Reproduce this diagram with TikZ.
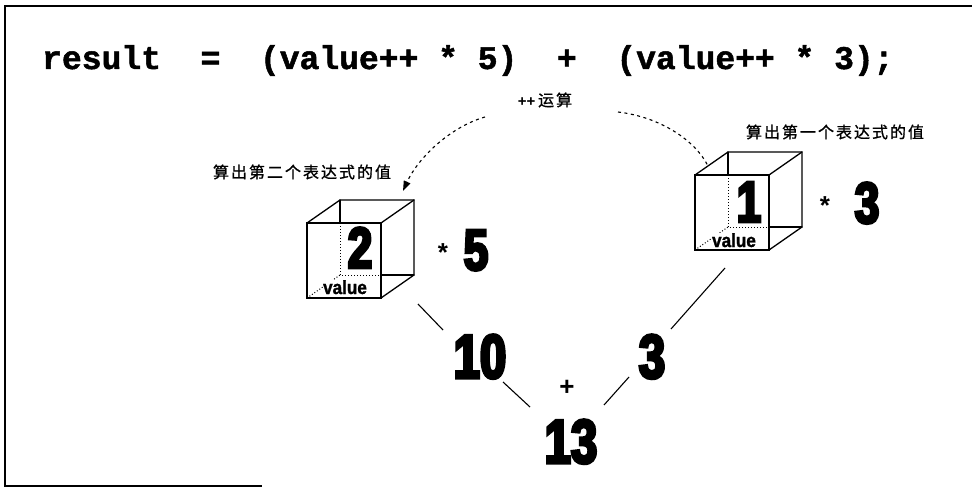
\documentclass[tikz,border=0pt]{standalone}
\usepackage{fontspec}
\usetikzlibrary{arrows.meta}
\newfontfamily\codefont{Liberation Mono}[BoldFeatures={FakeBold=1.5}]
\newfontfamily\cjkfont{Noto Sans CJK SC}[LetterSpace=12.5,FakeBold=1]
\newfontfamily\labelfont{Liberation Sans}
\newfontfamily\namefont{Liberation Sans}[BoldFeatures={FakeBold=1.5,FakeStretch=0.9}]
\newfontfamily\heavyfont{Liberation Sans}[BoldFeatures={FakeBold=5,FakeStretch=0.76}]
\begin{document}
\begin{tikzpicture}[x=1pt,y=-1pt,
  frame/.style={line width=1.4pt},
  edge/.style={line width=1.3pt, line cap=round},
  hidden/.style={line width=1pt, dash pattern=on 1pt off 2pt},
  link/.style={line width=1.1pt},
  opflow/.style={line width=1.1pt, dash pattern=on 3pt off 3.5pt},
  code/.style={font=\codefont\bfseries\fontsize{33}{35}\selectfont, inner sep=0pt, anchor=base west},
  note/.style={font=\cjkfont\fontsize{16}{18}\selectfont, inner sep=0pt},
  bignum/.style={font=\heavyfont\bfseries\fontsize{62}{62}\selectfont, inner sep=0pt, anchor=base},
  cubenum/.style={font=\heavyfont\bfseries\fontsize{58}{58}\selectfont, inner sep=0pt, anchor=base},
  varname/.style={font=\namefont\bfseries\fontsize{19}{19}\selectfont, inner sep=0.5pt, fill=white, anchor=base},
  opsign/.style={font=\labelfont\bfseries\fontsize{26}{26}\selectfont, inner sep=0pt},
  % a box standing for the variable; origin is the front bottom-left corner
  valuecube/.pic={
    \draw[edge] (0,0) rectangle (74,-75);
    \draw[edge] (0,-75) -- (33,-98) -- (107,-98) -- (107,-23) -- (74,0);
    \draw[edge] (74,-75) -- (107,-98);
    \draw[edge] (33,-98) -- (33,-75);
    \draw[edge] (74,-23) -- (107,-23);
    \draw[hidden] (33,-75) -- (33,-23) -- (74,-23);
    \draw[hidden] (0,0) -- (33,-23);
    \coordinate (-mid) at (53,-49);
  }]
\useasboundingbox (0,0) rectangle (972,487);

% page frame
\draw[frame] (972,6) -- (5,6) -- (5,486) -- (262,486);

% the statement, one character cell = 19.8
\node[code] (lhs)    at (42,69)    {result};
\node[code] (assign) at (200.4,69) {=};
\node[code] (termA)  at (259.8,69) {(value++ * 5)};
\node[code] (plus)   at (556.8,69) {+};
\node[code] (termB)  at (616.2,69) {(value++ * 3);};

% increment note and its two paths
\node[note] (inc) at (545,100) {{\labelfont\bfseries\fontsize{15}{15}\selectfont ++}\,运算};
\coordinate (incL) at (485,117);
\coordinate (incR) at (618,112);
\coordinate (tipL) at (403,191);
\coordinate (tipR) at (708,166);
\draw[opflow, -{Triangle[length=10pt,width=7pt]}] (incL) .. controls (450,127) and (418,158) .. (tipL);
\draw[opflow] (incR) .. controls (660,117) and (695,140) .. (tipR);

\node[note] (secondNote) at (302,172) {算出第二个表达式的值};
\node[note] (firstNote)  at (835,132) {算出第一个表达式的值};

% the two evaluations of value
\pic (cubeL) at (307,298) {valuecube};
\node[cubenum] (two) at (360,268) {2};
\node[varname] (nameL) at (345,294) {value};
\node[opsign] (timesL) at (443,253) {*};
\node[cubenum] (five) at (476,270) {5};

\pic (cubeR) at (695,250) {valuecube};
\node[cubenum] (one) at (749,222) {1};
\node[varname] (nameR) at (734,247) {value};
\node[opsign] (timesR) at (825,206) {*};
\node[cubenum] (threeR) at (867,223) {3};

% partial results and the sum
\node[bignum] (ten) at (480,378) {10};
\node[bignum] (three) at (652,378) {3};
\node[opsign] (sum) at (567,388) {+};
\node[bignum] (total) at (571,463) {13};

\coordinate (lA) at (418,304);
\coordinate (lB) at (443,330);
\coordinate (lC) at (503,382);
\coordinate (lD) at (530,407);
\coordinate (rA) at (725,268);
\coordinate (rB) at (671,329);
\coordinate (rC) at (629,377);
\coordinate (rD) at (604,405);
\draw[link] (lA) -- (lB);
\draw[link] (lC) -- (lD);
\draw[link] (rA) -- (rB);
\draw[link] (rC) -- (rD);
\end{tikzpicture}
\end{document}
